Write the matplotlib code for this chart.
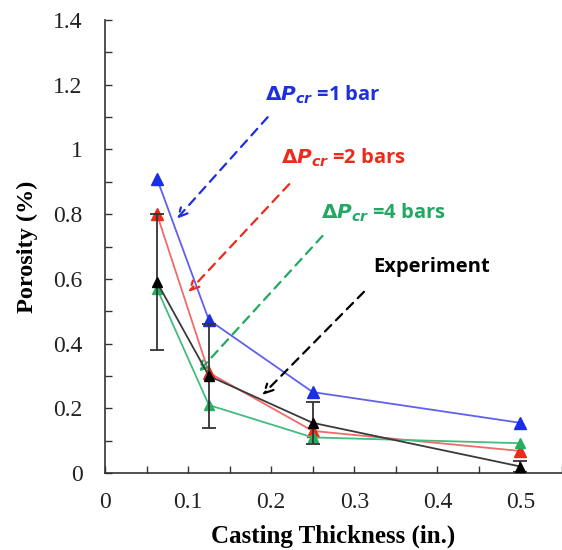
import numpy as np
import matplotlib
matplotlib.use('Agg')
import matplotlib.pyplot as plt
from matplotlib.ticker import MultipleLocator

thickness = [0.0625, 0.125, 0.25, 0.5]
por_1bar = [0.91, 0.473, 0.25, 0.155]
por_2bar = [0.80, 0.31, 0.13, 0.068]
por_4bar = [0.57, 0.21, 0.11, 0.092]
por_exp = [0.59, 0.30, 0.155, 0.02]
exp_err = [0.21, 0.16, 0.065, 0.017]

plt.rcParams['mathtext.fontset'] = 'dejavusans'

fig = plt.figure(figsize=(5.62, 5.50), dpi=100)
ax = fig.add_axes([105/562, 77/550, 457/562, 453/550])

ax.plot(thickness, por_1bar, color='#6060f0', lw=1.3, marker='^', ms=8,
        mfc='#1a2ee6', mec='#1a2ee6', zorder=3)
ax.plot(thickness, por_2bar, color='#f26a6a', lw=1.3, marker='^', ms=8,
        mfc='#ee2a1a', mec='#ee2a1a', zorder=3)
ax.plot(thickness, por_4bar, color='#44bb80', lw=1.3, marker='^', ms=7,
        mfc='#25b060', mec='#25b060', zorder=3)
ax.errorbar(thickness, por_exp, yerr=exp_err, color='#3a3a3a', lw=1.3,
            marker='^', ms=7, mfc='black', mec='black', ecolor='#333333',
            elinewidth=1.3, capsize=5, capthick=1.3, zorder=4)

ax.set_xlim(0, 0.55)
ax.set_ylim(0, 1.4)
ax.spines['top'].set_visible(False)
ax.spines['right'].set_visible(False)
for s in ['left', 'bottom']:
    ax.spines[s].set_color('#333333')
    ax.spines[s].set_linewidth(1.2)
ax.xaxis.set_minor_locator(MultipleLocator(0.05))
ax.yaxis.set_minor_locator(MultipleLocator(0.1))
ax.set_xticks([0, 0.1, 0.2, 0.3, 0.4, 0.5])
ax.set_xticklabels(['0', '0.1', '0.2', '0.3', '0.4', '0.5'])
ax.set_yticks([0, 0.2, 0.4, 0.6, 0.8, 1.0, 1.2, 1.4])
ax.set_yticklabels(['0', '0.2', '0.4', '0.6', '0.8', '1', '1.2', '1.4'])
ax.tick_params(which='both', direction='in', length=5, width=1, color='#333333')
ax.tick_params(axis='x', pad=14)
ax.tick_params(axis='y', pad=16)
for lab in ax.get_xticklabels() + ax.get_yticklabels():
    lab.set_fontfamily('Liberation Serif')
    lab.set_fontsize(17)
    lab.set_color('#222222')

ax.set_xlabel('Casting Thickness (in.)', fontfamily='Liberation Serif',
              fontweight='bold', fontsize=18, labelpad=8)
ax.set_ylabel('Porosity (%)', fontfamily='Liberation Serif',
              fontweight='bold', fontsize=17.5, labelpad=11)

notes = [
    (r'$\mathbf{\Delta}\mathbfit{P}_{\mathbfit{cr}}$ =1 bar', '#1f2fe0', (0.192, 1.168), (0.198, 1.106), (0.084, 0.779)),
    (r'$\mathbf{\Delta}\mathbfit{P}_{\mathbfit{cr}}$ =2 bars', '#ee2a1a', (0.212, 0.973), (0.224, 0.899), (0.098, 0.553)),
    (r'$\mathbf{\Delta}\mathbfit{P}_{\mathbfit{cr}}$ =4 bars', '#22a862', (0.260, 0.803), (0.264, 0.739), (0.110, 0.306)),
    ('Experiment', 'black', (0.323, 0.637), (0.314, 0.566), (0.187, 0.235)),
]
for txt, col, tpos, a0, a1 in notes:
    ax.text(tpos[0], tpos[1], txt, color=col, fontsize=14.5, fontweight='bold',
            fontfamily='Open Sans', va='center', ha='left')
    ax.annotate('', xy=a1, xytext=a0,
                arrowprops=dict(arrowstyle='->', color=col, lw=1.6,
                                linestyle=(0, (4, 3)), mutation_scale=16))

fig.savefig('out.png', dpi=100)
